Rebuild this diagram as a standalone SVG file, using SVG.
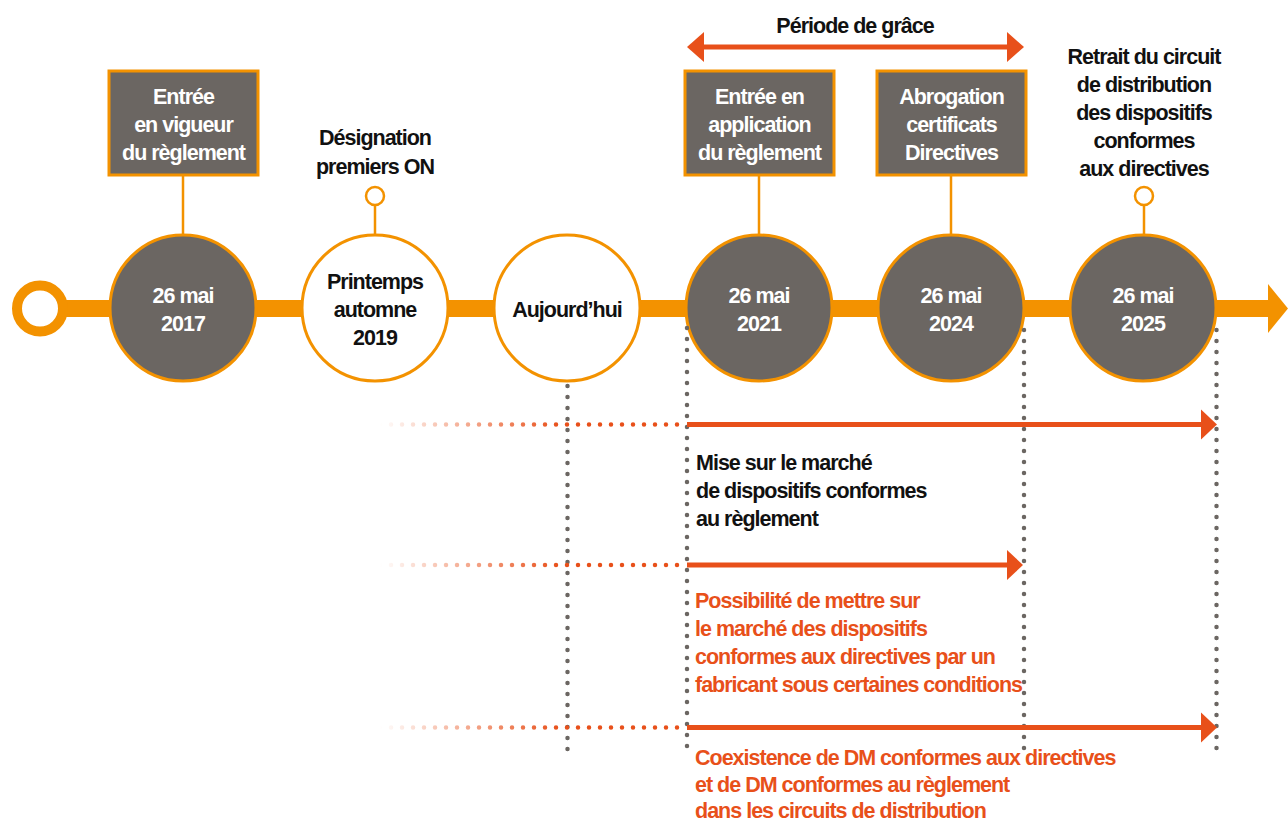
<svg xmlns="http://www.w3.org/2000/svg" width="1288" height="823" viewBox="0 0 1288 823">
<style>
text{font-family:"Liberation Sans",Arial,sans-serif;font-weight:bold;font-size:21.5px;letter-spacing:-1px}
.c{text-anchor:middle}
.w{fill:#fff}
.k{fill:#111}
.r{fill:#E8501A}
.dark{fill:#6B6662;stroke:#F39200;stroke-width:3}
.light{fill:#fff;stroke:#F39200;stroke-width:3}
.box{fill:#6B6662;stroke:#F39200;stroke-width:3}
.stem{stroke:#F39200;stroke-width:2.5;fill:none}
.vdot{stroke:#6B6662;stroke-width:4.5;stroke-linecap:round;stroke-dasharray:0 11;fill:none}
.hdot{stroke:url(#fade);stroke-width:4.5;stroke-linecap:round;stroke-dasharray:0 11;fill:none}
.arr{stroke:#E8501A;stroke-width:5;fill:none}
.head{fill:#E8501A}
</style>
<defs>
<linearGradient id="fade" gradientUnits="userSpaceOnUse" x1="380" y1="0" x2="560" y2="0">
<stop offset="0" stop-color="#E8501A" stop-opacity="0"/>
<stop offset="1" stop-color="#E8501A" stop-opacity="1"/>
</linearGradient>
</defs>

<g id="connectors">
<rect x="60" y="300" width="1210" height="17" fill="#F39200"/>
<polygon points="1268,284 1288,308.5 1268,333" fill="#F39200"/>
<line class="stem" x1="183" y1="176" x2="183" y2="234"/>
<line class="stem" x1="375" y1="205" x2="375" y2="234"/>
<line class="stem" x1="759" y1="176" x2="759" y2="234"/>
<line class="stem" x1="951" y1="176" x2="951" y2="234"/>
<line class="stem" x1="1144" y1="205" x2="1144" y2="234"/>
<line class="arr" x1="700" y1="47" x2="1010" y2="47"/>
<polygon class="head" points="687,47 704,32 704,62"/>
<polygon class="head" points="1024,47 1007,32 1007,62"/>
</g>

<g id="start">
<circle cx="40" cy="308.5" r="23" fill="#fff" stroke="#F39200" stroke-width="10"/>
</g>

<g id="n2017">
<rect class="box" x="109" y="71" width="149" height="104"/>
<text class="c w" x="183.5" y="104">Entrée</text>
<text class="c w" x="183.5" y="132">en vigueur</text>
<text class="c w" x="183.5" y="160">du règlement</text>
<circle class="dark" cx="183" cy="308" r="73"/>
<text class="c w" x="183" y="303">26 mai</text>
<text class="c w" x="183" y="331">2017</text>
</g>

<g id="n2019">
<text class="c k" x="375" y="145">Désignation</text>
<text class="c k" x="375" y="174">premiers ON</text>
<circle cx="375" cy="196" r="9" fill="#fff" stroke="#F39200" stroke-width="2.5"/>
<circle class="light" cx="375" cy="308" r="73"/>
<text class="c k" x="375" y="289">Printemps</text>
<text class="c k" x="375" y="317">automne</text>
<text class="c k" x="375" y="345">2019</text>
</g>

<g id="today">
<circle class="light" cx="567" cy="308" r="73"/>
<text class="c k" x="567" y="317">Aujourd’hui</text>
</g>

<g id="n2021">
<rect class="box" x="685" y="71" width="149" height="104"/>
<text class="c w" x="759.5" y="104">Entrée en</text>
<text class="c w" x="759.5" y="132">application</text>
<text class="c w" x="759.5" y="160">du règlement</text>
<circle class="dark" cx="759" cy="308" r="73"/>
<text class="c w" x="759" y="303">26 mai</text>
<text class="c w" x="759" y="331">2021</text>
</g>

<g id="n2024">
<rect class="box" x="877" y="71" width="149" height="104"/>
<text class="c w" x="951.5" y="104">Abrogation</text>
<text class="c w" x="951.5" y="132">certificats</text>
<text class="c w" x="951.5" y="160">Directives</text>
<circle class="dark" cx="951" cy="308" r="73"/>
<text class="c w" x="951" y="303">26 mai</text>
<text class="c w" x="951" y="331">2024</text>
</g>

<g id="n2025">
<text class="c k" x="1144" y="64">Retrait du circuit</text>
<text class="c k" x="1144" y="92">de distribution</text>
<text class="c k" x="1144" y="120">des dispositifs</text>
<text class="c k" x="1144" y="148">conformes</text>
<text class="c k" x="1144" y="176">aux directives</text>
<circle cx="1144" cy="196" r="9" fill="#fff" stroke="#F39200" stroke-width="2.5"/>
<circle class="dark" cx="1143" cy="308" r="73"/>
<text class="c w" x="1143" y="303">26 mai</text>
<text class="c w" x="1143" y="331">2025</text>
</g>

<g id="grace">
<text class="c k" x="855" y="33">Période de grâce</text>
</g>

<g id="guides">
<line class="vdot" x1="567.5" y1="386" x2="567.5" y2="750"/>
<line class="vdot" x1="687" y1="328" x2="687" y2="750"/>
<line class="vdot" x1="1024" y1="330" x2="1024" y2="750"/>
<line class="vdot" x1="1216.5" y1="330" x2="1216.5" y2="750"/>
</g>

<g id="periods">
<line class="hdot" x1="380" y1="424.5" x2="687" y2="424.5"/>
<line class="arr" x1="687" y1="424.5" x2="1204" y2="424.5"/>
<polygon class="head" points="1217,424.5 1201,409.5 1201,439.5"/>
<line class="hdot" x1="380" y1="565" x2="687" y2="565"/>
<line class="arr" x1="687" y1="565" x2="1010" y2="565"/>
<polygon class="head" points="1023,565 1007,550 1007,580"/>
<line class="hdot" x1="380" y1="727.5" x2="687" y2="727.5"/>
<line class="arr" x1="687" y1="727.5" x2="1204" y2="727.5"/>
<polygon class="head" points="1217,727.5 1201,712.5 1201,742.5"/>
</g>

<g id="label1">
<text class="k" x="696" y="470">Mise sur le marché</text>
<text class="k" x="696" y="498">de dispositifs conformes</text>
<text class="k" x="696" y="526">au règlement</text>
</g>
<g id="label2">
<text class="r" x="695" y="608">Possibilité de mettre sur</text>
<text class="r" x="695" y="636">le marché des dispositifs</text>
<text class="r" x="695" y="664">conformes aux directives par un</text>
<text class="r" x="695" y="692">fabricant sous certaines conditions</text>
</g>
<g id="label3">
<text class="r" x="695" y="765">Coexistence de DM conformes aux directives</text>
<text class="r" x="695" y="792">et de DM conformes au règlement</text>
<text class="r" x="695" y="818">dans les circuits de distribution</text>
</g>
</svg>
